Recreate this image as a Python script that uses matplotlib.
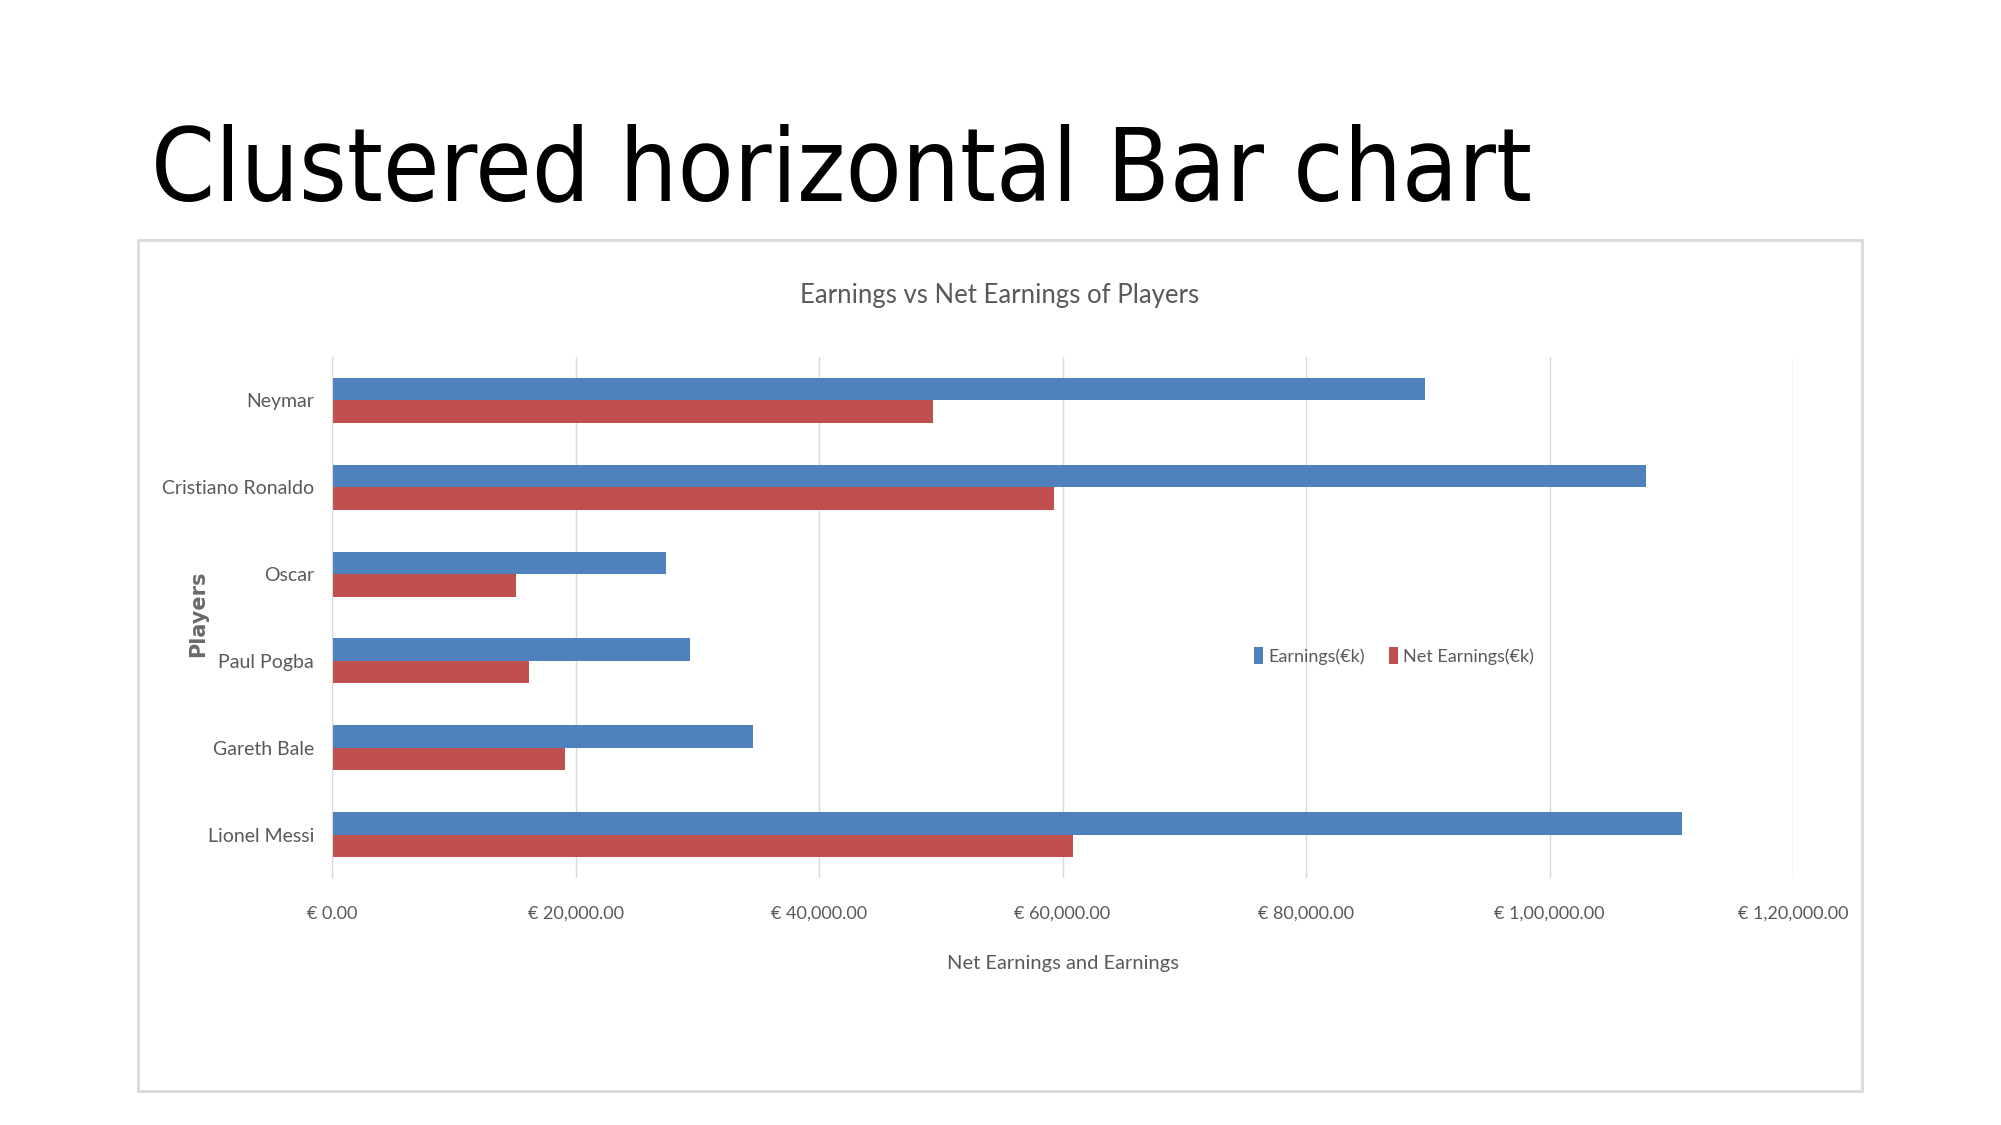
import matplotlib
matplotlib.use("Agg")
import matplotlib.pyplot as plt
import numpy as np
from matplotlib.patches import Rectangle

players = ["Neymar", "Cristiano Ronaldo", "Oscar", "Paul Pogba", "Gareth Bale", "Lionel Messi"]
earnings = [89800, 107900, 27400, 29400, 34600, 110900]
net_earnings = [49400, 59300, 15100, 16200, 19100, 60900]
xticks = [0, 20000, 40000, 60000, 80000, 100000, 120000]
xtick_labels = ["€ 0.00", "€ 20,000.00", "€ 40,000.00", "€ 60,000.00",
                "€ 80,000.00", "€ 1,00,000.00", "€ 1,20,000.00"]

chart_font = ["Lato", "DejaVu Sans"]
grey = "#595959"
blue = "#4F81BD"
red = "#C0504D"

fig = plt.figure(figsize=(20.01, 11.25), dpi=100)

# slide title
fig.text(151 / 2001, 1 - 200 / 1125, "Clustered horizontal Bar chart",
         fontsize=73.5, family=["DejaVu Sans Condensed", "DejaVu Sans"], stretch="condensed",
         color="black", va="baseline", ha="left")

# chart frame
fig.patches.append(Rectangle((138 / 2001, 1 - 1091 / 1125), (1862 - 138) / 2001, (1091 - 240) / 1125,
                             transform=fig.transFigure, fill=False, edgecolor="#D9D9D9", linewidth=2))

ax = fig.add_axes([332 / 2001, 1 - 878 / 1125, (1793 - 332) / 2001, (878 - 357) / 1125])

y = np.arange(len(players))
h = 0.26
ax.barh(y - h / 2, earnings, height=h, color=blue, label="Earnings(€k)", zorder=3)
ax.barh(y + h / 2, net_earnings, height=h, color=red, label="Net Earnings(€k)", zorder=3)

ax.set_ylim(len(players) - 0.5, -0.5)
ax.set_xlim(0, 120000)
ax.set_yticks(y)
ax.set_yticklabels(players, family=chart_font, fontsize=14, color=grey)
ax.set_xticks(xticks)
ax.set_xticklabels(xtick_labels, family=chart_font, fontsize=13, color=grey)
ax.tick_params(axis="both", length=0)
ax.tick_params(axis="y", pad=13)
ax.tick_params(axis="x", pad=20)
ax.grid(axis="x", color="#D9D9D9", linewidth=1, zorder=0)
for s in ["top", "right", "bottom"]:
    ax.spines[s].set_visible(False)
ax.spines["left"].set_color("#D9D9D9")
ax.spines["left"].set_zorder(4)

ax.set_xlabel("Net Earnings and Earnings", family=chart_font, fontsize=14.5, color=grey, labelpad=24)
fig.text(198 / 2001, 1 - 614 / 1125, "Players", rotation=90, fontsize=15, fontweight="bold",
         family="DejaVu Sans", color="#6a6a6a", ha="center", va="center")

fig.text(1000 / 2001, 1 - 295 / 1125, "Earnings vs Net Earnings of Players", family=chart_font,
         fontsize=18.5, color=grey, ha="center", va="center")

leg = fig.legend(loc="center", bbox_to_anchor=(1394 / 2001, 1 - 656 / 1125), ncol=2,
                 frameon=False, prop={"family": chart_font, "size": 13},
                 handlelength=0.5, handleheight=1.0, handletextpad=0.3, columnspacing=1.3)
for t in leg.get_texts():
    t.set_color(grey)

fig.savefig("out.png", dpi=100)
